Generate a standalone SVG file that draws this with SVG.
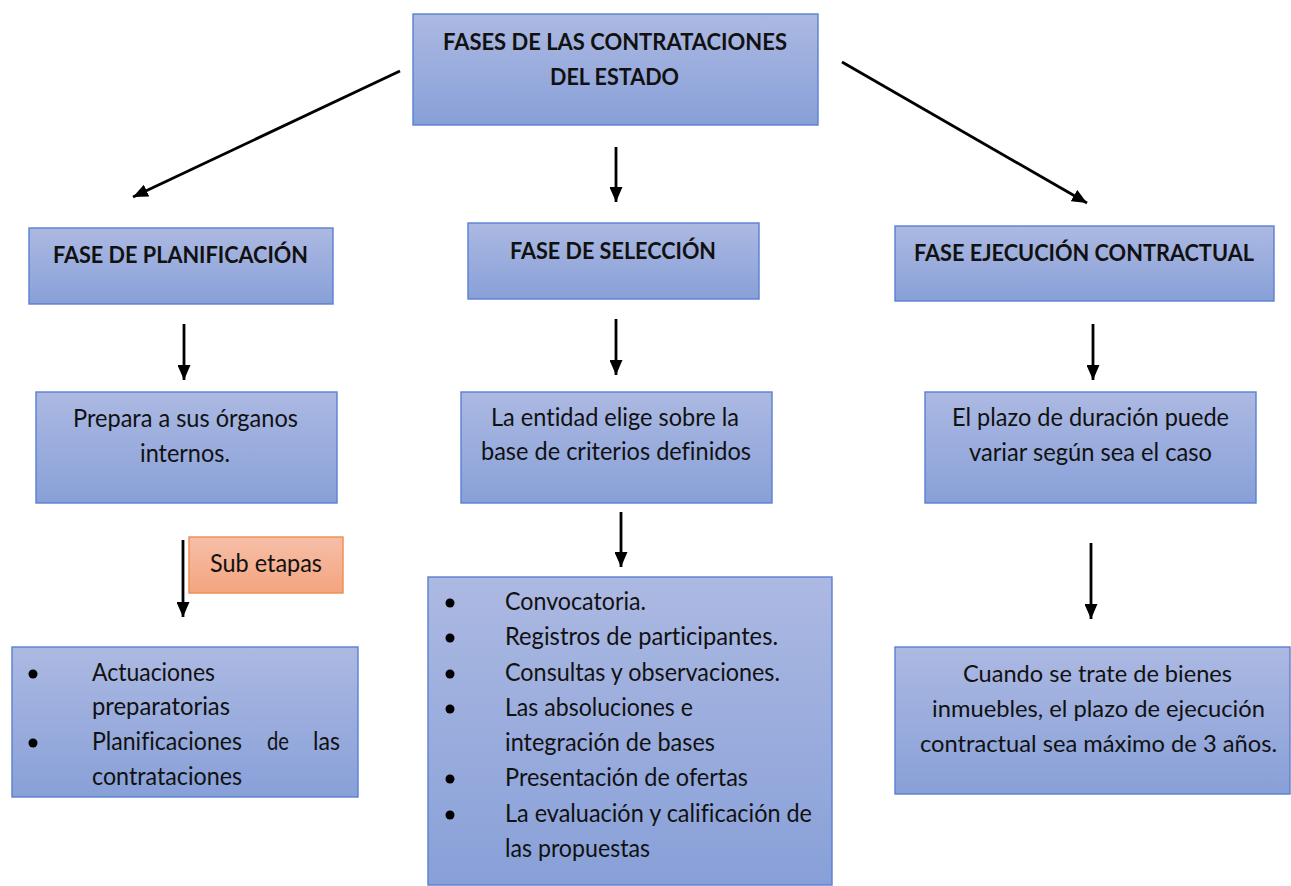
<svg xmlns="http://www.w3.org/2000/svg" width="1291" height="886" viewBox="0 0 1291 886">
<style>
.box{fill:url(#gb);stroke:#5a7fd2;stroke-width:1.4}
.sub{fill:url(#go);stroke:#f08a50;stroke-width:1.4}
.b{font-family:Lato,"Liberation Sans",sans-serif;font-weight:bold;font-size:23px;fill:#111;text-anchor:middle;font-variant-ligatures:none}
.t{font-family:Lato,"Liberation Sans",sans-serif;font-size:25px;fill:#111;text-anchor:middle;font-variant-ligatures:none}
.s{font-size:23px}
.l{font-family:Lato,"Liberation Sans",sans-serif;font-size:25px;fill:#111;font-variant-ligatures:none}
.bul{fill:#000}
.c line{stroke:#000;stroke-width:2.8;marker-end:url(#ah)}
</style>
<defs>
<linearGradient id="gb" x1="0" y1="0" x2="0" y2="1">
<stop offset="0" stop-color="#acb9e2"/>
<stop offset="1" stop-color="#88a0d8"/>
</linearGradient>
<linearGradient id="go" x1="0" y1="0" x2="0" y2="1">
<stop offset="0" stop-color="#f6bfa8"/>
<stop offset="1" stop-color="#f4a47e"/>
</linearGradient>
<marker id="ah" markerUnits="userSpaceOnUse" markerWidth="15" markerHeight="13" refX="15" refY="6.5" orient="auto">
<path d="M0,0 L15,6.5 L0,13 z" fill="#000"/>
</marker>
</defs>
<rect width="1291" height="886" fill="#fff"/>
<g class="c" id="connectors">
<line x1="400" y1="71" x2="133" y2="197"/>
<line x1="842" y1="62" x2="1087" y2="203"/>
<line x1="616" y1="147" x2="616" y2="202"/>
<line x1="184" y1="324" x2="184" y2="380"/>
<line x1="616" y1="319" x2="616" y2="375"/>
<line x1="1093" y1="324" x2="1093" y2="380"/>
<line x1="621" y1="512" x2="621" y2="567"/>
<line x1="183" y1="540" x2="183" y2="617"/>
<line x1="1091" y1="543" x2="1091" y2="619"/>
</g>
<g id="n-root">
<rect class="box" x="413" y="14" width="405" height="111"/>
<text class="b" x="615" y="50" textLength="344" lengthAdjust="spacingAndGlyphs">FASES DE LAS CONTRATACIONES</text>
<text class="b" x="614.5" y="85" textLength="129" lengthAdjust="spacingAndGlyphs">DEL ESTADO</text>
</g>
<g id="n-planif">
<rect class="box" x="29" y="228" width="304" height="76"/>
<text class="b" x="180.5" y="263" textLength="255" lengthAdjust="spacingAndGlyphs">FASE DE PLANIFICACIÓN</text>
</g>
<g id="n-seleccion">
<rect class="box" x="468" y="223" width="291" height="76"/>
<text class="b" x="613" y="259" textLength="206" lengthAdjust="spacingAndGlyphs">FASE DE SELECCIÓN</text>
</g>
<g id="n-ejecucion">
<rect class="box" x="895" y="226" width="379" height="75"/>
<text class="b" x="1084" y="261" textLength="340" lengthAdjust="spacingAndGlyphs">FASE EJECUCIÓN CONTRACTUAL</text>
</g>
<g id="n-prepara">
<rect class="box" x="36" y="392" width="301" height="111"/>
<text class="t" x="185.5" y="427" textLength="225" lengthAdjust="spacingAndGlyphs">Prepara a sus órganos</text>
<text class="t" x="185" y="462" textLength="90" lengthAdjust="spacingAndGlyphs">internos.</text>
</g>
<g id="n-entidad">
<rect class="box" x="461" y="392" width="311" height="111"/>
<text class="t" x="615" y="426" textLength="248" lengthAdjust="spacingAndGlyphs">La entidad elige sobre la</text>
<text class="t" x="616" y="460" textLength="270" lengthAdjust="spacingAndGlyphs">base de criterios definidos</text>
</g>
<g id="n-plazo">
<rect class="box" x="925" y="392" width="331" height="111"/>
<text class="t" x="1090.5" y="426" textLength="277" lengthAdjust="spacingAndGlyphs">El plazo de duración puede</text>
<text class="t" x="1090.5" y="461" textLength="243" lengthAdjust="spacingAndGlyphs">variar según sea el caso</text>
</g>
<g id="n-subetapas">
<rect class="sub" x="189" y="537" width="154" height="56"/>
<text class="t" x="266" y="572" textLength="112" lengthAdjust="spacingAndGlyphs">Sub etapas</text>
</g>
<g id="n-actuaciones">
<rect class="box" x="12" y="647" width="346" height="150"/>
<circle class="bul" cx="33" cy="674" r="4.5"/>
<circle class="bul" cx="33" cy="743" r="4.5"/>
<text class="l" x="92" y="681" textLength="123" lengthAdjust="spacingAndGlyphs">Actuaciones</text>
<text class="l" x="92" y="715" textLength="138" lengthAdjust="spacingAndGlyphs">preparatorias</text>
<text class="l" x="92" y="750" textLength="150" lengthAdjust="spacingAndGlyphs">Planificaciones</text>
<text class="l" x="267" y="750" textLength="22" lengthAdjust="spacingAndGlyphs">de</text>
<text class="l" x="313" y="750" textLength="27" lengthAdjust="spacingAndGlyphs">las</text>
<text class="l" x="92" y="785" textLength="150" lengthAdjust="spacingAndGlyphs">contrataciones</text>
</g>
<g id="n-convocatoria">
<rect class="box" x="428" y="577" width="404" height="308"/>
<circle class="bul" cx="450" cy="603" r="4.5"/>
<circle class="bul" cx="450" cy="638" r="4.5"/>
<circle class="bul" cx="450" cy="674" r="4.5"/>
<circle class="bul" cx="450" cy="709" r="4.5"/>
<circle class="bul" cx="450" cy="779" r="4.5"/>
<circle class="bul" cx="450" cy="815" r="4.5"/>
<text class="l" x="505" y="610" textLength="141" lengthAdjust="spacingAndGlyphs">Convocatoria.</text>
<text class="l" x="505" y="645" textLength="273" lengthAdjust="spacingAndGlyphs">Registros de participantes.</text>
<text class="l" x="505" y="681" textLength="275" lengthAdjust="spacingAndGlyphs">Consultas y observaciones.</text>
<text class="l" x="505" y="716" textLength="188" lengthAdjust="spacingAndGlyphs">Las absoluciones e</text>
<text class="l" x="505" y="751" textLength="210" lengthAdjust="spacingAndGlyphs">integración de bases</text>
<text class="l" x="505" y="786" textLength="243" lengthAdjust="spacingAndGlyphs">Presentación de ofertas</text>
<text class="l" x="505" y="822" textLength="307" lengthAdjust="spacingAndGlyphs">La evaluación y calificación de</text>
<text class="l" x="505" y="857" textLength="145" lengthAdjust="spacingAndGlyphs">las propuestas</text>
</g>
<g id="n-cuando">
<rect class="box" x="895" y="647" width="395" height="147"/>
<text class="t s" x="1097.5" y="682" textLength="269" lengthAdjust="spacingAndGlyphs">Cuando se trate de bienes</text>
<text class="t s" x="1098.5" y="717" textLength="333" lengthAdjust="spacingAndGlyphs">inmuebles, el plazo de ejecución</text>
<text class="t s" x="1098.5" y="752" textLength="357" lengthAdjust="spacingAndGlyphs">contractual sea máximo de 3 años.</text>
</g>
</svg>
